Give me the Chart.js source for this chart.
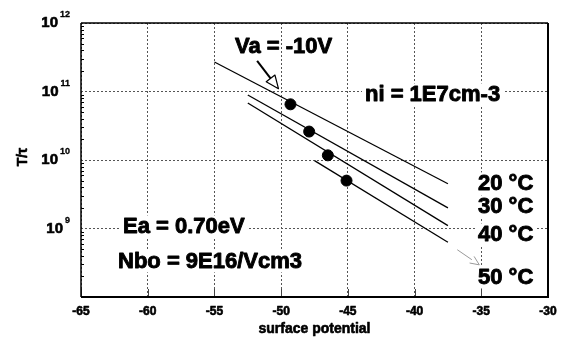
<!DOCTYPE html>
<html>
<head>
<meta charset="utf-8">
<script src="https://cdn.jsdelivr.net/npm/chart.js@4.4.1/dist/chart.umd.min.js"></script>
<style>
  html, body { margin: 0; padding: 0; background: #fff; }
  canvas { display: block; }
</style>
</head>
<body>
<canvas id="chart" width="563" height="341"></canvas>
<script>
// values
const tempLabels = ['20 °C', '30 °C', '40 °C', '50 °C'];
const lineX = [[-55, -37.5], [-52.5, -37.5], [-52.5, -37.5], [-47.5, -37.5]];
const lineY = [[2.7e11, 4.5e9], [8.9e10, 2.0e9], [6.8e10, 1.1e9], [9.8e9, 6.3e8]];
const dotX = [-49.3, -47.9, -46.5, -45.1];
const dotY = [6.5e10, 2.6e10, 1.17e10, 5.0e9];
const yDecades = [1e8, 1e9, 1e10, 1e11, 1e12];
const yLabelExp = [9, 10, 11, 12];
const xTicks = [-65, -60, -55, -50, -45, -40, -35, -30];

const FONT = '"Liberation Sans", Arial, sans-serif';

const datasets = lineX.map((xs, i) => ({
  label: tempLabels[i],
  data: xs.map((x, j) => ({ x: x, y: lineY[i][j] })),
  showLine: true,
  borderColor: '#000',
  borderWidth: 1.3,
  pointRadius: 0
}));
datasets.push({
  label: 'dots',
  data: dotX.map((x, i) => ({ x: x, y: dotY[i] })),
  showLine: false,
  pointRadius: 5.5,
  pointBackgroundColor: '#000',
  pointBorderColor: '#000'
});

function arrow(ctx, x1, y1, x2, y2, opts) {
  const a = Math.atan2(y2 - y1, x2 - x1);
  const len = opts.head, w = opts.width;
  const bx = x2 - len * Math.cos(a), by = y2 - len * Math.sin(a);
  const px = -Math.sin(a) * w / 2, py = Math.cos(a) * w / 2;
  ctx.save();
  ctx.strokeStyle = opts.color;
  ctx.lineWidth = opts.lw;
  ctx.beginPath();
  ctx.moveTo(x1, y1);
  ctx.lineTo(bx, by);
  ctx.stroke();
  ctx.beginPath();
  ctx.moveTo(bx + px, by + py);
  ctx.lineTo(x2, y2);
  ctx.lineTo(bx - px, by - py);
  if (opts.closed) {
    ctx.closePath();
    ctx.fillStyle = '#fff';
    ctx.fill();
  }
  ctx.lineWidth = opts.headLw || opts.lw;
  ctx.stroke();
  ctx.restore();
}

// heavy text, like the scanned original
function heavy(ctx, text, x, y, size, sw) {
  ctx.font = 'bold ' + size + 'px ' + FONT;
  ctx.fillStyle = '#000';
  ctx.strokeStyle = '#000';
  ctx.lineWidth = sw;
  ctx.lineJoin = 'round';
  ctx.fillText(text, x, y);
  if (sw > 0) ctx.strokeText(text, x, y);
}

function label(ctx, text, x, y, size, boxed) {
  ctx.font = 'bold ' + size + 'px ' + FONT;
  if (boxed) {
    const w = ctx.measureText(text).width;
    ctx.fillStyle = '#fff';
    ctx.fillRect(x - 3, y - size * 0.8, w + 6, size * 1.0);
  }
  heavy(ctx, text, x, y, size, 0.9);
}

const decor = {
  id: 'decor',
  afterDatasetsDraw(chart) {
    const ctx = chart.ctx;
    const xs = chart.scales.x, ys = chart.scales.y;
    const a = chart.chartArea;
    ctx.save();

    // minor ticks inside left axis
    ctx.strokeStyle = '#000';
    ctx.lineWidth = 1;
    for (let d = 8; d < 12; d++) {
      for (let k = 2; k <= 9; k++) {
        const y = Math.round(ys.getPixelForValue(k * Math.pow(10, d))) + 0.5;
        ctx.beginPath();
        ctx.moveTo(a.left, y);
        ctx.lineTo(a.left + 3, y);
        ctx.stroke();
      }
    }
    // short inward ticks at bottom
    ctx.strokeStyle = '#444';
    xTicks.forEach(v => {
      const x = Math.round(xs.getPixelForValue(v)) + 0.5;
      ctx.beginPath();
      ctx.moveTo(x, a.bottom);
      ctx.lineTo(x, a.bottom - 8);
      ctx.stroke();
    });

    // frame
    ctx.strokeStyle = '#000';
    ctx.lineWidth = 1.5;
    ctx.beginPath();
    ctx.moveTo(a.left, a.top);
    ctx.lineTo(a.right, a.top);
    ctx.moveTo(a.left, a.top);
    ctx.lineTo(a.left, a.bottom);
    ctx.stroke();
    ctx.lineWidth = 2;
    ctx.beginPath();
    ctx.moveTo(a.left, a.bottom);
    ctx.lineTo(a.right, a.bottom);
    ctx.lineTo(a.right, a.top);
    ctx.stroke();

    // y tick labels 10^n
    ctx.textAlign = 'right';
    yLabelExp.forEach(e => {
      const y = ys.getPixelForValue(Math.pow(10, e));
      ctx.font = 'bold 9px ' + FONT;
      const ew = ctx.measureText(String(e)).width;
      heavy(ctx, String(e), 70, y - 6, 9, 0.3);
      heavy(ctx, '10', 70 - ew - 2, y + 4, 15, 0.6);
    });

    // x tick labels
    ctx.textAlign = 'center';
    xTicks.forEach(v => {
      heavy(ctx, String(v), xs.getPixelForValue(v), 315, 12, 0.6);
    });
    heavy(ctx, 'surface potential', (a.left + a.right) / 2, 333, 14, 0.6);

    // y title
    ctx.save();
    ctx.translate(27, 157);
    ctx.rotate(-Math.PI / 2);
    heavy(ctx, 'T/τ', 0, 0, 14, 0.6);
    ctx.restore();

    // annotations
    ctx.textAlign = 'left';
    label(ctx, 'Va = -10V', 235, 53, 22, false);
    label(ctx, 'ni = 1E7cm-3', 365, 101, 22, true);
    label(ctx, 'Ea = 0.70eV', 123, 233, 22, true);
    label(ctx, 'Nbo = 9E16/Vcm3', 118, 268, 22, true);
    const tempY = [190, 213, 241, 284];
    tempLabels.forEach((t, i) => label(ctx, t, 478, tempY[i], 22, true));

    // arrows, anchored in data space
    arrow(ctx,
      xs.getPixelForValue(-51.8), ys.getPixelForValue(2.8e11),
      xs.getPixelForValue(-50.2), ys.getPixelForValue(1.1e11),
      { color: '#000', lw: 2, head: 13, width: 11, closed: true, headLw: 1.2 });
    arrow(ctx,
      xs.getPixelForValue(-36.8), ys.getPixelForValue(4.9e8),
      xs.getPixelForValue(-35.15), ys.getPixelForValue(2.95e8),
      { color: '#999', lw: 1, head: 9, width: 8, closed: false });

    ctx.restore();
  }
};

new Chart(document.getElementById('chart'), {
  type: 'scatter',
  data: { datasets: datasets },
  options: {
    responsive: false,
    devicePixelRatio: 1,
    animation: false,
    layout: { padding: { left: 81, top: 23, right: 15, bottom: 44 } },
    plugins: { legend: { display: false }, tooltip: { enabled: false } },
    scales: {
      x: {
        type: 'linear',
        min: -65, max: -30,
        ticks: { display: false, stepSize: 5 },
        grid: { color: '#555', lineWidth: 1, drawTicks: false },
        border: { display: false, dash: [2, 2] }
      },
      y: {
        type: 'logarithmic',
        min: 1e8, max: 1e12,
        afterBuildTicks: s => { s.ticks = yDecades.map(v => ({ value: v })); },
        ticks: { display: false },
        grid: { color: '#555', lineWidth: 1, drawTicks: false },
        border: { display: false, dash: [2, 2] }
      }
    }
  },
  plugins: [decor]
});
</script>
</body>
</html>
